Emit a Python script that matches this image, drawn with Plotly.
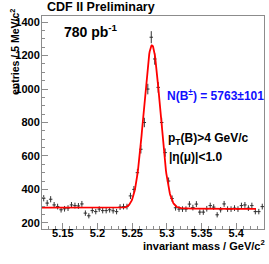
import numpy as np
import plotly.graph_objects as go

# ---- data ----
bin_centers = [round(5.1225 + 0.005 * i, 4) for i in range(64)]
entries = [
    347, 318, 341, 307, 297, 278, 284, 288, 307, 303,
    301, 313, 258, 242, 273, 267, 282, 273, 273, 278,
    272, 267, 294, 297, 297, 361, 400, 500, 640, 800,
    1000, 1310, 1180, 1010, 800, 620, 450, 345, 290, 282,
    282, 282, 312, 291, 312, 264, 264, 284, 303, 294,
    248, 278, 313, 282, 282, 288, 282, 303, 307, 288,
    303, 267, 267, 297,
]
half_bin = 0.0025

# fit parameters (gaussian signal + linear background)
FIT_MEAN = 5.2785
FIT_SIGMA = 0.0118
FIT_AMP = 975
FIT_BG_LO = 291
FIT_BG_HI = 283
FIT_LO = 5.12
FIT_HI = 5.4285

x_ticks = [5.15, 5.2, 5.25, 5.3, 5.35, 5.4]
y_ticks = [200, 400, 600, 800, 1000, 1200, 1400]

# ---- figure ----
errs = [np.sqrt(v) for v in entries]
fx = np.linspace(FIT_LO, FIT_HI, 500)
bg = FIT_BG_LO + (FIT_BG_HI - FIT_BG_LO) * (fx - FIT_LO) / (FIT_HI - FIT_LO)
fy = bg + FIT_AMP * np.exp(-0.5 * ((fx - FIT_MEAN) / FIT_SIGMA) ** 2)

fig = go.Figure()
fig.add_trace(go.Scatter(
    x=bin_centers, y=entries, mode="markers",
    marker=dict(size=1, color="#333333"),
    error_x=dict(type="constant", value=half_bin, color="#333333", thickness=1, width=0),
    error_y=dict(type="data", array=errs, color="#333333", thickness=1, width=0),
    showlegend=False, hoverinfo="skip",
))
fig.add_trace(go.Scatter(
    x=fx, y=fy, mode="lines", line=dict(color="#ff0000", width=1.8),
    showlegend=False, hoverinfo="skip",
))

FONT = "Liberation Sans, Arial, Helvetica, sans-serif"
axis_common = dict(
    showline=True, linecolor="#8c8c8c", linewidth=1, mirror=True,
    ticks="inside", tickcolor="#8c8c8c", ticklen=6, tickwidth=1,
    showgrid=False, zeroline=False, automargin=False,
    tickfont=dict(family=FONT, size=11, color="black", weight="bold"),
)
fig.update_xaxes(
    range=[5.12, 5.44], tickvals=x_ticks, ticktext=[f"{t:g}" for t in x_ticks],
    minor=dict(tickvals=[round(5.12 + 0.01 * i, 2) for i in range(33)],
               ticks="inside", ticklen=3, tickcolor="#8c8c8c"),
    ticklabelstandoff=-6,
    **axis_common,
)
fig.update_yaxes(
    range=[163, 1437], tickvals=y_ticks,
    minor=dict(dtick=50, ticks="inside", ticklen=3, tickcolor="#8c8c8c"),
    ticklabelstandoff=-1,
    **axis_common,
)

ann = [
    dict(text="<b>CDF II Preliminary</b>", x=45, y=7, font=dict(size=12.5, color="black"),
         xanchor="left"),
    dict(text="<b>780 pb<sup>-1</sup></b>", x=62, y=31, font=dict(size=14, color="black"),
         xanchor="left"),
    dict(text="<b>N(B<sup>±</sup>) = 5763±101</b>", x=165, y=95, font=dict(size=12, color="#1010ff"),
         xanchor="left"),
    dict(text="<b>p<sub>T</sub>(B)>4 GeV/c</b>", x=166, y=139, font=dict(size=12, color="black"),
         xanchor="left"),
    dict(text="<b>|η(μ)|<1.0</b>", x=167, y=157, font=dict(size=12, color="black"),
         xanchor="left"),
    dict(text="<b>invariant mass / GeV/c<sup>2</sup></b>", x=267, y=245,
         font=dict(size=11, color="black"), xanchor="right"),
]
L, R, T, B = 42, 264, 16, 229
annotations = []
for a in ann:
    px, py = a.pop("x"), a.pop("y")
    a.update(xref="paper", yref="paper", x=(px - L) / (R - L), y=(B - py) / (B - T),
             yanchor="middle", showarrow=False)
    a["font"]["family"] = FONT
    annotations.append(a)
annotations.append(dict(
    text="<b>entries / 5 MeV/c<sup>2</sup></b>", textangle=-90,
    xref="paper", yref="paper", x=(14 - L) / (R - L), y=(B - 52) / (B - T),
    xanchor="center", yanchor="middle", showarrow=False,
    font=dict(family=FONT, size=10.5, color="black"),
))

fig.update_layout(
    width=269, height=264,
    margin=dict(l=L, r=269 - R, t=T, b=264 - B),
    paper_bgcolor="white", plot_bgcolor="white",
    annotations=annotations,
)
fig.write_html("out.html", config={"displayModeBar": False},
               post_script="document.body.style.margin='0';")
